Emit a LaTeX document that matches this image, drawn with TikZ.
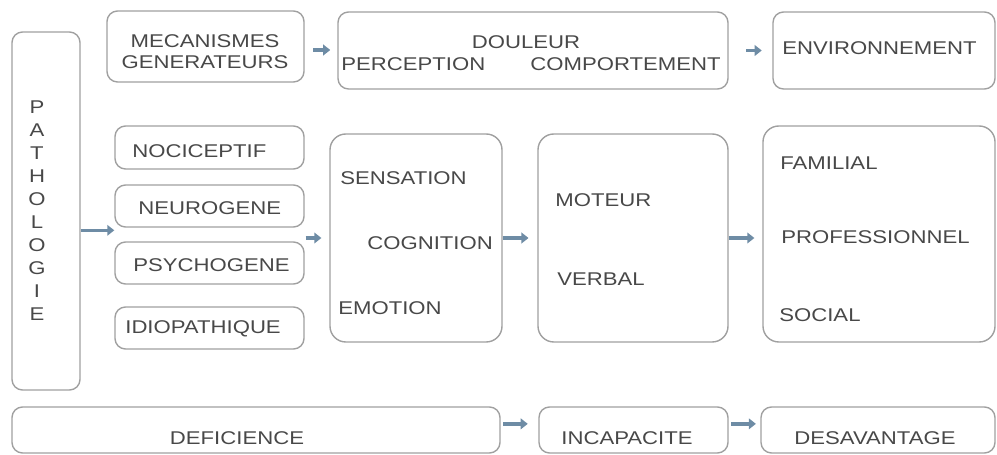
\documentclass[tikz,border=0pt]{standalone}
\usepackage{fontspec}
\setmainfont{Liberation Sans}[FakeStretch=1.2]
\usetikzlibrary{arrows.meta,fit}
\definecolor{boxgray}{RGB}{160,160,160}
\definecolor{txtgray}{RGB}{72,72,72}
\definecolor{arrblue}{RGB}{110,140,165}
\begin{document}
\begin{tikzpicture}[x=0.02cm,y=-0.02cm,
  box/.style={draw=boxgray, line width=0.8pt, rounded corners=6pt, inner sep=0pt},
  bigbox/.style={box, rounded corners=9pt},
  lbl/.style={text=txtgray, font=\fontsize{10.5}{12.5}\selectfont, inner sep=0pt},
  wlbl/.style={lbl, anchor=west},
  arr/.style={draw=arrblue, line width=2pt, -{Triangle[length=4pt,width=6pt]}}]
\useasboundingbox (0,0) rectangle (997,455);
% boxes
\node[box, fit={(12,32) (80,390)}] (path) {};
\node[box, fit={(107,11) (304,82)}] (mec) {};
\node[box, fit={(338,12) (728,89)}] (doul) {};
\node[box, fit={(773,12) (995,89)}] (env) {};
\node[box, fit={(115,126) (304,169)}] (noci) {};
\node[box, fit={(115,185) (304,227)}] (neuro) {};
\node[box, fit={(115,242) (304,284)}] (psycho) {};
\node[box, fit={(115,307) (304,349)}] (idio) {};
\node[bigbox, fit={(330,134) (502,342)}] (sens) {};
\node[bigbox, fit={(538,134) (728,342)}] (mot) {};
\node[bigbox, fit={(763,126) (995,342)}] (fam) {};
\node[box, fit={(12,407) (500,453)}] (def) {};
\node[box, fit={(539,407) (728,453)}] (inc) {};
\node[box, fit={(761,407) (995,453)}] (des) {};
% texts
\node[lbl, align=center, font=\fontsize{10.5}{13.1}\selectfont] (tpath) at (37,211) {P\\A\\T\\H\\O\\L\\O\\G\\I\\E};
\node[lbl, align=center, font=\fontsize{10.5}{12}\selectfont] (tmec) at (205,52) {MECANISMES\\GENERATEURS};
\node[lbl] (tdoul) at (526,42) {DOULEUR};
\node[wlbl] (tperc) at (341,64) {PERCEPTION};
\node[lbl, anchor=east] (tcomp) at (721,64) {COMPORTEMENT};
\node[wlbl] (tenv) at (782,48) {ENVIRONNEMENT};
\node[wlbl] (tnoci) at (132,151) {NOCICEPTIF};
\node[wlbl] (tneuro) at (138,208) {NEUROGENE};
\node[wlbl] (tpsycho) at (133,265) {PSYCHOGENE};
\node[wlbl] (tidio) at (125,329) {IDIOPATHIQUE};
\node[wlbl] (tsens) at (340,178) {SENSATION};
\node[wlbl] (tcogn) at (367,243) {COGNITION};
\node[wlbl] (temo) at (338,308) {EMOTION};
\node[wlbl] (tmot) at (555,200) {MOTEUR};
\node[wlbl] (tverb) at (557,279) {VERBAL};
\node[wlbl] (tfam) at (780,163) {FAMILIAL};
\node[wlbl] (tprof) at (781,237) {PROFESSIONNEL};
\node[wlbl] (tsoc) at (779,315) {SOCIAL};
\node[lbl] (tdef) at (237,438) {DEFICIENCE};
\node[lbl] (tinc) at (627,438) {INCAPACITE};
\node[lbl] (tdes) at (875,438) {DESAVANTAGE};
% arrows
\draw[arr] ([xshift=5pt,yshift=-2pt]mec.east) -- ([xshift=-4pt,yshift=-2pt]mec.east -| doul.west);
\draw[arr] ([xshift=10pt]doul.east |- env.west) -- ([xshift=-6pt]env.west);
\draw[arr] ([yshift=-11pt]path.east) -- ([yshift=-11pt]path.east -| noci.west);
\draw[arr] ([xshift=0.5pt]neuro.east |- sens.west) -- ([xshift=-4.5pt]sens.west);
\draw[arr] (sens.east) -- ([xshift=-5pt]mot.west);
\draw[arr] (mot.east) -- ([xshift=-4.5pt]mot.east -| fam.west);
\draw[arr] ([xshift=1.5pt,yshift=3.5pt]def.east) -- ([xshift=-6pt,yshift=3.5pt]def.east -| inc.west);
\draw[arr] ([xshift=1.5pt,yshift=3.5pt]inc.east) -- ([xshift=-2.5pt,yshift=3.5pt]inc.east -| des.west);
\end{tikzpicture}
\end{document}
